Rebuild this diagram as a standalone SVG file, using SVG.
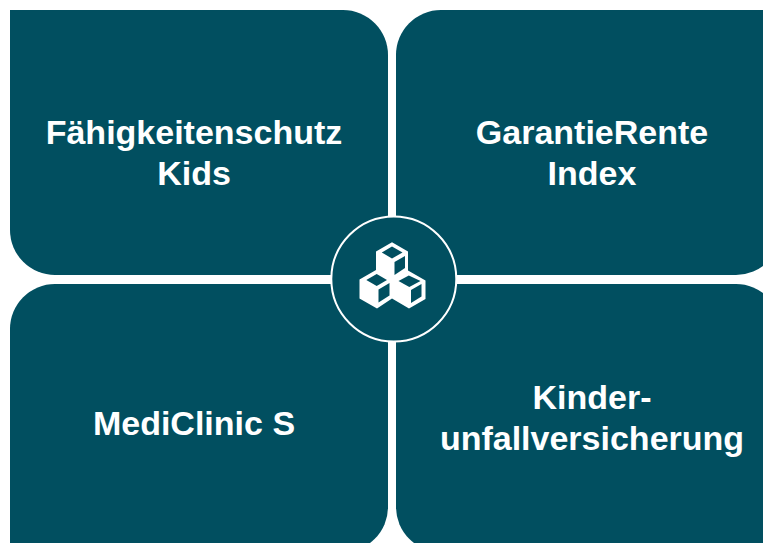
<svg xmlns="http://www.w3.org/2000/svg" width="763" height="543" viewBox="0 0 763 543">
<style>
.box{fill:#014f60}
.t{font-family:"Liberation Sans",Arial,sans-serif;font-weight:700;font-size:34px;fill:#fff;text-anchor:middle}
.d{fill:#014f60}
</style>
<rect width="763" height="543" fill="#fff"/>
<g id="node-faehigkeitenschutz">
<path class="box" d="M10 10H343A45 45 0 0 1 388 55V275H55A45 45 0 0 1 10 230Z"/>
<text class="t" x="194" y="144">Fähigkeitenschutz</text>
<text class="t" x="194" y="185">Kids</text>
</g>
<g id="node-garantierente">
<path class="box" d="M441 10H781V230A45 45 0 0 1 736 275H396V55A45 45 0 0 1 441 10Z"/>
<text class="t" x="592" y="144">GarantieRente</text>
<text class="t" x="592" y="185">Index</text>
</g>
<g id="node-mediclinic">
<path class="box" d="M55 284H388V507A45 45 0 0 1 343 552H10V329A45 45 0 0 1 55 284Z"/>
<text class="t" x="194" y="435">MediClinic S</text>
</g>
<g id="node-kinder">
<path class="box" d="M396 284H736A45 45 0 0 1 781 329V552H441A45 45 0 0 1 396 507Z"/>
<text class="t" x="592" y="409">Kinder-</text>
<text class="t" x="592" y="450">unfallversicherung</text>
</g>
<g id="node-center">
<circle cx="393.8" cy="279" r="62.5" fill="#014f60" stroke="#fff" stroke-width="2"/>
<polygon fill="#fff" points="392,242.3 408,251.5 408,270.5 425.5,280.5 425.5,299 409,308.5 392,298.5 377,308.5 359.5,298.5 359.5,279.5 376,270 376,251.5"/>
<polygon class="d" points="392,246.5 402.5,252.5 392,258.5 381.8,252.5"/>
<polygon class="d" points="394.5,262 405,256 405,268 394.5,275"/>
<polygon class="d" points="376.7,274 387,280 376.7,286 366.3,280"/>
<polygon class="d" points="378.5,289.5 389.5,283 389.5,295.5 378.5,302.5"/>
<polygon class="d" points="408.8,275.5 420.5,281 409.3,287 398.5,281"/>
<polygon class="d" points="411,290 421.5,284 421.5,296.5 411,303"/>
</g>
<g id="connectors"/>
</svg>
